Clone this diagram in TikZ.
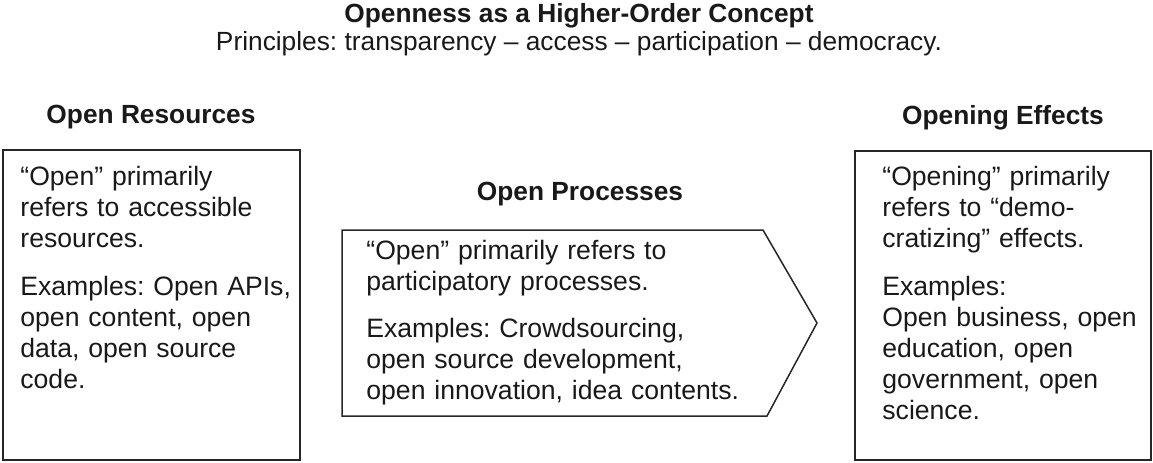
\documentclass[tikz,border=0pt]{standalone}
\usepackage{fontspec}
\setmainfont{Liberation Sans}
\frenchspacing

\begin{document}
\begin{tikzpicture}[x=0.5pt,y=-0.5pt,
    head/.style={font=\fontsize{13.15}{15.5}\selectfont\bfseries, inner sep=0pt, anchor=base, text=black!90},
    sub/.style={font=\fontsize{13.15}{15.5}\selectfont, inner sep=0pt, anchor=base, text=black!90},
    body/.style={font=\fontsize{13.3}{15.5}\selectfont, inner sep=0pt, anchor=base west,
        text width=145pt, align=left, text=black!90},
    frame/.style={draw=black!85, line width=0.75pt, line join=miter}]
    \useasboundingbox (0,0) rectangle (1153,462);

    \node[head] (title) at (579,22) {Openness as a Higher-Order Concept};
    \node[sub] (princ) at (579,50) {Principles: transparency – access – participation – democracy.};

    % left column
    \node[head] (reshead) at (151,123) {Open Resources};
    \draw[frame] (3,150) rectangle (300,460);
    \node[body] (restext) at (20,185) {“Open” primarily\\
        refers to accessible\\
        resources.\\[8.5pt]
        Examples: Open APIs,\\
        open content, open\\
        data, open source\\
        code.};

    % middle column
    \node[head] (prochead) at (580,200) {Open Processes};
    \draw[frame] (342,230) -- (763,230) -- (817,323) -- (767,416) -- (342,416) -- cycle;
    \node[body,text width=200pt] (proctext) at (366,259) {“Open” primarily refers to\\
        participatory processes.\\[8pt]
        Examples: Crowdsourcing,\\
        open source development,\\
        open innovation, idea contents.};

    % right column
    \node[head] (effhead) at (1003,124) {Opening Effects};
    \draw[frame] (855,151) rectangle (1151,460);
    \node[body] (efftext) at (882,185) {“Opening” primarily\\
        refers to “demo-\\
        cratizing” effects.\\[8.5pt]
        Examples:\\
        Open business, open\\
        education, open\\
        government, open\\
        science.};
\end{tikzpicture}
\end{document}
